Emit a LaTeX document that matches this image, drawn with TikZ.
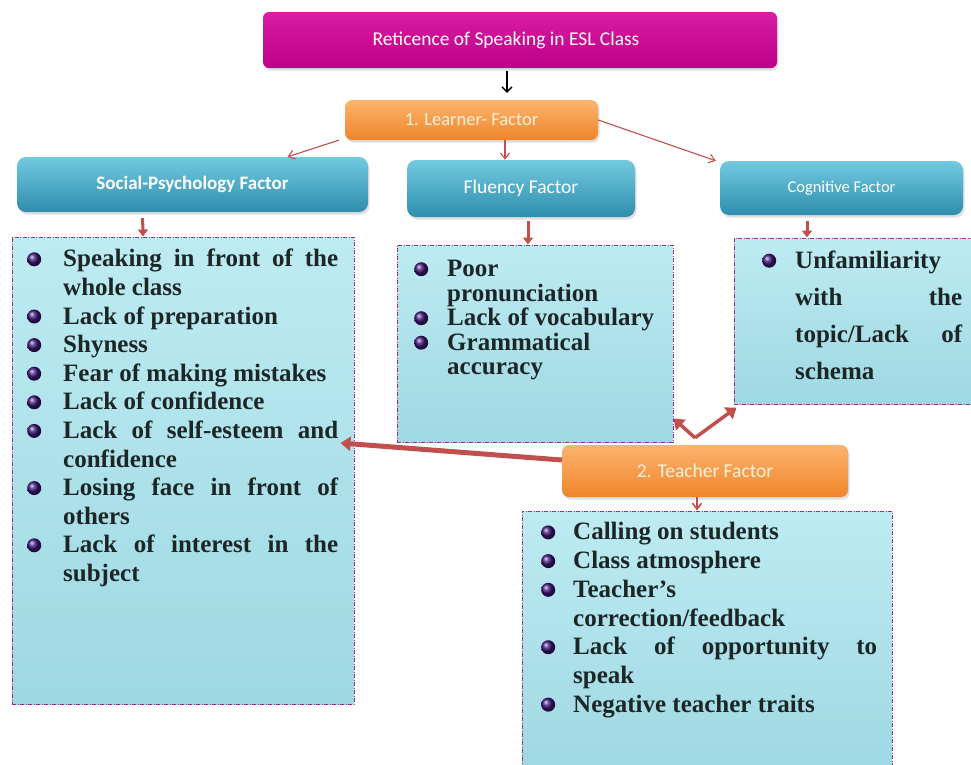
\documentclass[tikz,border=0pt]{standalone}
\usepackage{fontspec}
\setmainfont{Liberation Serif}
\setsansfont{Carlito}
\usepackage{xcolor}
\usetikzlibrary{arrows.meta,positioning,shadows}

\definecolor{magtop}{HTML}{D81CA3}
\definecolor{magbot}{HTML}{BE0088}
\definecolor{orgtop}{HTML}{FCB46E}
\definecolor{orgbot}{HTML}{F0852A}
\definecolor{blutop}{HTML}{72CAE0}
\definecolor{blubot}{HTML}{2E8DAD}
\definecolor{paneltop}{HTML}{BDEBF2}
\definecolor{panelbot}{HTML}{9ED8E3}
\definecolor{panelline}{HTML}{9B2A90}
\definecolor{linkred}{HTML}{C0504D}
\definecolor{dotpurple}{HTML}{3E1478}
\definecolor{cream}{HTML}{FFF1DC}
\definecolor{inkdark}{HTML}{1C2626}

% purple ball used as bullet
\newcommand{\purpledot}{\tikz[baseline=-0.3em]\shade[ball color=dotpurple] (0,0) circle (7pt);}
\newenvironment{dotlist}[1]{\begin{list}{\purpledot}{%
  \setlength{\leftmargin}{#1}\setlength{\labelwidth}{14pt}%
  \setlength{\labelsep}{\dimexpr#1-15pt\relax}\setlength{\itemindent}{0pt}%
  \setlength{\itemsep}{0pt}\setlength{\parsep}{0pt}%
  \setlength{\topsep}{0pt}\setlength{\partopsep}{0pt}}}{\end{list}}

\tikzset{
  titlebox/.style={rounded corners=6pt, top color=magtop, bottom color=magbot,
    drop shadow={opacity=0.25,shadow xshift=1.5pt,shadow yshift=-2.5pt},
    text=white, font=\sffamily\fontsize{19.5}{22}\selectfont},
  orangebox/.style={rounded corners=7pt, top color=orgtop, bottom color=orgbot,
    drop shadow={opacity=0.25,shadow xshift=1.5pt,shadow yshift=-2.5pt},
    text=cream, font=\sffamily\fontsize{18.5}{22}\selectfont},
  bluebox/.style={rounded corners=9pt, top color=blutop, bottom color=blubot,
    drop shadow={opacity=0.25,shadow xshift=1.5pt,shadow yshift=-2.5pt},
    text=white, font=\sffamily\fontsize{19.5}{22}\selectfont},
  panel/.style={draw=panelline, line width=1pt,
    dash pattern=on 4pt off 1.5pt on 1pt off 1.5pt,
    top color=paneltop, bottom color=panelbot},
  listtext/.style={anchor=north west, inner sep=0pt, align=justify, text=inkdark},
  blacklink/.style={draw=black, line width=1.3pt, -{Straight Barb[length=5pt,width=10pt]}},
  thinlink/.style={draw=linkred, line width=1.1pt, -{Straight Barb[length=6pt,width=9pt]}},
  thicklink/.style={draw=linkred, line width=3pt, -{Triangle[length=7pt,width=10pt]}},
  heavylink/.style={draw=linkred, line width=5pt, -{Triangle[length=10pt,width=14pt]}},
}

\begin{document}
\begin{tikzpicture}[x=1pt,y=-1pt]
\useasboundingbox (0,0) rectangle (971,764);

% heading and the two factor groups
\node[titlebox, minimum width=514pt, minimum height=56pt] (title) at (520,40) {Reticence of Speaking in ESL Class\hspace*{28pt}};
\node[orangebox, minimum width=253pt, minimum height=40pt] (learner) at (471.5,120) {1. Learner- Factor};
\node[bluebox, minimum width=351pt, minimum height=55pt, font=\sffamily\bfseries\fontsize{19}{22}\selectfont] (social) at (192.5,184.5) {Social-Psychology Factor};
\node[bluebox, minimum width=228pt, minimum height=57pt] (fluency) at (521,188.5) {Fluency Factor};
\node[bluebox, minimum width=243pt, minimum height=54pt, font=\sffamily\fontsize{16.5}{20}\selectfont] (cognitive) at (841.5,188) {Cognitive Factor};
\node[orangebox, minimum width=286pt, minimum height=52pt, font=\sffamily\fontsize{19.5}{22}\selectfont] (teacher) at (705,471) {2. Teacher Factor};

% list panels
\node[panel, minimum width=342pt, minimum height=467pt] (soclist) at (183,470.5) {};
\node[panel, minimum width=276pt, minimum height=197pt] (flulist) at (535,343.5) {};
\node[panel, minimum width=241pt, minimum height=166pt] (coglist) at (854.5,321) {};
\node[panel, minimum width=370pt, minimum height=262pt] (teachlist) at (707,642) {};

\node[listtext, text width=312pt, font=\bfseries\fontsize{25}{28.6}\selectfont] (soctext) at (26,238) {%
\begin{dotlist}{37pt}
\item Speaking in front of the\linebreak whole class
\item Lack of preparation
\item Shyness
\item Fear of making mistakes
\item Lack of confidence
\item Lack of self-esteem and\linebreak confidence
\item Losing face in front of\linebreak others
\item Lack of interest in the\linebreak subject
\end{dotlist}};

\node[listtext, text width=253pt, font=\bfseries\fontsize{25}{24.5}\selectfont] (flutext) at (413,252) {%
\begin{dotlist}{34pt}
\item Poor\\ pronunciation
\item Lack of vocabulary
\item Grammatical\\ accuracy
\end{dotlist}};

\node[listtext, text width=201pt, font=\bfseries\fontsize{25}{37}\selectfont] (cogtext) at (761,231) {%
\begin{dotlist}{34pt}
\item Unfamiliarity\\ with the\linebreak topic/Lack of\linebreak schema
\end{dotlist}};

\node[listtext, text width=337pt, font=\bfseries\fontsize{25}{28.7}\selectfont] (teachtext) at (540,511) {%
\begin{dotlist}{33pt}
\item Calling on students
\item Class atmosphere
\item Teacher’s\\ correction/feedback
\item Lack of opportunity to\linebreak speak
\item Negative teacher traits
\end{dotlist}};

% connectors
\draw[blacklink, shorten <=3pt, shorten >=7pt] ([xshift=-13pt]title.south) -- ([xshift=-13pt]title.south |- learner.north);
\draw[thinlink] ([xshift=-6pt]learner.south west) -- ([xshift=95pt]social.north);
\draw[thinlink] ([xshift=33.5pt]learner.south) -- ([xshift=-16pt]fluency.north);
\draw[thinlink] (learner.east) -- ([xshift=-4pt]cognitive.north west);

\draw[thicklink, shorten <=6pt] ([xshift=-50pt]social.south) -- ([xshift=-40pt]soclist.north);
\draw[thicklink, shorten <=4pt] ([xshift=7pt]fluency.south) -- ([xshift=-7pt]flulist.north);
\draw[thicklink, shorten <=6pt] ([xshift=-34.5pt]cognitive.south) -- ([xshift=-47.5pt]coglist.north);
\draw[thinlink, line width=1.6pt] ([xshift=-8pt]teacher.south) -- ([xshift=-10pt]teachlist.north);

\draw[heavylink] ([yshift=11pt]teacher.west) -- ([xshift=-14pt,yshift=27.5pt]soclist.east);
\draw[heavylink, line width=3.5pt] ([xshift=-10pt,yshift=7pt]teacher.north) -- ([yshift=24pt]flulist.south east);
\draw[heavylink, line width=3.5pt] ([xshift=-10pt,yshift=7pt]teacher.north) -- ([xshift=3pt,yshift=-3pt]coglist.south west);
\end{tikzpicture}
\end{document}
